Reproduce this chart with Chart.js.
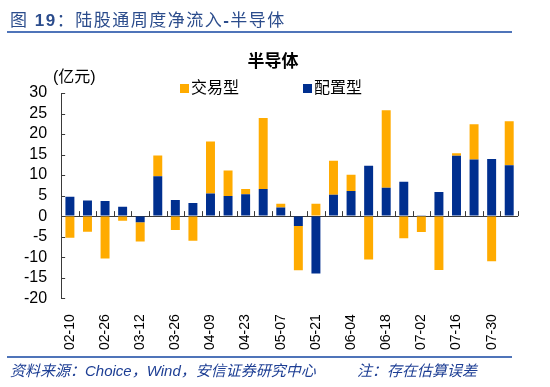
<!DOCTYPE html>
<html>
<head>
<meta charset="utf-8">
<script src="https://cdn.jsdelivr.net/npm/chart.js@4"></script>
<style>
  body { margin: 0; background: #fff; }
  #wrap { position: relative; width: 550px; height: 387px; overflow: hidden; }
  #chart { position: absolute; left: 0; top: 0; }
  .hdr { position: absolute; left: 10px; top: 6px; font: 17px 'Liberation Sans', 'Noto Sans CJK SC', sans-serif; color: #2B4C8C; letter-spacing: 1.5px; white-space: nowrap; }
  .rule { position: absolute; left: 7px; width: 505px; height: 2px; background: #4F74B9; }
  .ftr { position: absolute; top: 359px; font: italic 15px 'Liberation Sans', 'Noto Sans CJK SC', sans-serif; color: #1D3E94; white-space: nowrap; }
</style>
</head>
<body>
<div id="wrap">
  <canvas id="chart" width="550" height="387"></canvas>
  <div class="hdr">图 <b>19</b>：陆股通周度净流入<b>-</b>半导体</div>
  <div class="rule" style="top:31px"></div>
  <div class="rule" style="top:356px"></div>
  <div class="ftr" style="left:10px">资料来源：Choice，Wind，安信证券研究中心</div>
  <div class="ftr" style="left:357px">注：存在估算误差</div>
</div>
<script>
const weeks = [
    '02-10', '02-17', '02-26', '03-05', '03-12', '03-19', '03-26', '04-02',
    '04-09', '04-16', '04-23', '04-30', '05-07', '05-14', '05-21', '05-28',
    '06-04', '06-11', '06-18', '06-25', '07-02', '07-09', '07-16', '07-23',
    '07-30', '08-06'
];
// 配置型 (亿元)
const allocation = [
    4.7, 3.8, 3.7, 2.3, -1.5, 9.7, 3.9, 3.2, 5.5, 4.9, 5.3, 6.6, 2.1,
    -2.4, -14.0, 5.2, 6.1, 12.3, 6.9, 8.4, 0.2, 5.9, 14.7, 13.8, 13.9, 12.4
];
// 交易型 (亿元)
const trading = [
    -5.3, -3.8, -10.3, -1.1, -4.7, 5.1, -3.4, -6.0, 12.7, 6.2, 1.3, 17.3, 0.9,
    -10.8, 3.0, 8.3, 4.0, -10.6, 18.9, -5.4, -3.9, -13.1, 0.6, 8.6, -11.0, 10.7
];

const BLUE = '#002F8F';
const ORANGE = '#FFAB00';
const AXIS = '#3a3a3a';
const FONT = "'Liberation Sans', 'Noto Sans CJK SC', sans-serif";

Chart.defaults.font.family = FONT;
Chart.defaults.color = '#000';

// petits traits d'axe + titre + légende + unité
const extras = {
    id: 'extras',
    afterDatasetsDraw(chart) {
        const {ctx, chartArea, scales: {x, y}} = chart;
        const zero = y.getPixelForValue(0);
        const half = (x.getPixelForValue(1) - x.getPixelForValue(0)) / 2;
        ctx.save();
        ctx.strokeStyle = AXIS;
        ctx.lineWidth = 1;
        ctx.beginPath();
        for (let i = 0; i <= weeks.length; i++) {
            const px = Math.round(x.getPixelForValue(i) - half) + 0.5;
            ctx.moveTo(px, zero - 5);
            ctx.lineTo(px, zero);
        }
        y.ticks.forEach(t => {
            const py = Math.round(y.getPixelForValue(t.value)) + 0.5;
            ctx.moveTo(chartArea.left, py);
            ctx.lineTo(chartArea.left + 4, py);
        });
        ctx.stroke();

        // titre
        ctx.fillStyle = '#000';
        ctx.textBaseline = 'middle';
        ctx.textAlign = 'center';
        ctx.font = "bold 17px " + FONT;
        ctx.fillText('半导体', 273, 62);

        // légende
        ctx.textAlign = 'left';
        ctx.font = "16px " + FONT;
        const items = [[chart.data.datasets[1], 180], [chart.data.datasets[0], 303]];
        items.forEach(([ds, lx]) => {
            ctx.fillStyle = ds.backgroundColor;
            ctx.fillRect(lx, 84, 9, 9);
            ctx.fillStyle = '#000';
            ctx.fillText(ds.label, lx + 11, 89);
        });
        ctx.fillText('(亿元)', 53, 78);
        ctx.restore();
    }
};

const chart = new Chart(document.getElementById('chart'), {
    type: 'bar',
    data: {
        labels: weeks,
        datasets: [
            { label: '配置型', data: allocation, backgroundColor: BLUE },
            { label: '交易型', data: trading, backgroundColor: ORANGE }
        ]
    },
    options: {
        responsive: false,
        animation: false,
        layout: { padding: { left: 10, right: 32, top: 93, bottom: 29 } },
        datasets: { bar: { categoryPercentage: 1, barPercentage: 0.51 } },
        scales: {
            x: {
                stacked: true,
                grid: { display: false },
                border: { display: false },
                ticks: {
                    autoSkip: false,
                    maxRotation: 90,
                    minRotation: 90,
                    padding: 8,
                    font: { size: 14 },
                    callback: function (val, i) { return i % 2 === 0 ? this.getLabelForValue(val) : ''; }
                }
            },
            y: {
                stacked: true,
                min: -20,
                max: 30,
                border: { display: true, color: AXIS, width: 1 },
                grid: {
                    drawTicks: false,
                    color: c => c.tick && c.tick.value === 0 ? AXIS : 'transparent'
                },
                ticks: { stepSize: 5, autoSkip: false, padding: 14, font: { size: 16 } }
            }
        },
        plugins: {
            legend: { display: false },
            tooltip: { enabled: false },
            title: { display: false }
        }
    },
    plugins: [extras]
});
</script>
</body>
</html>
